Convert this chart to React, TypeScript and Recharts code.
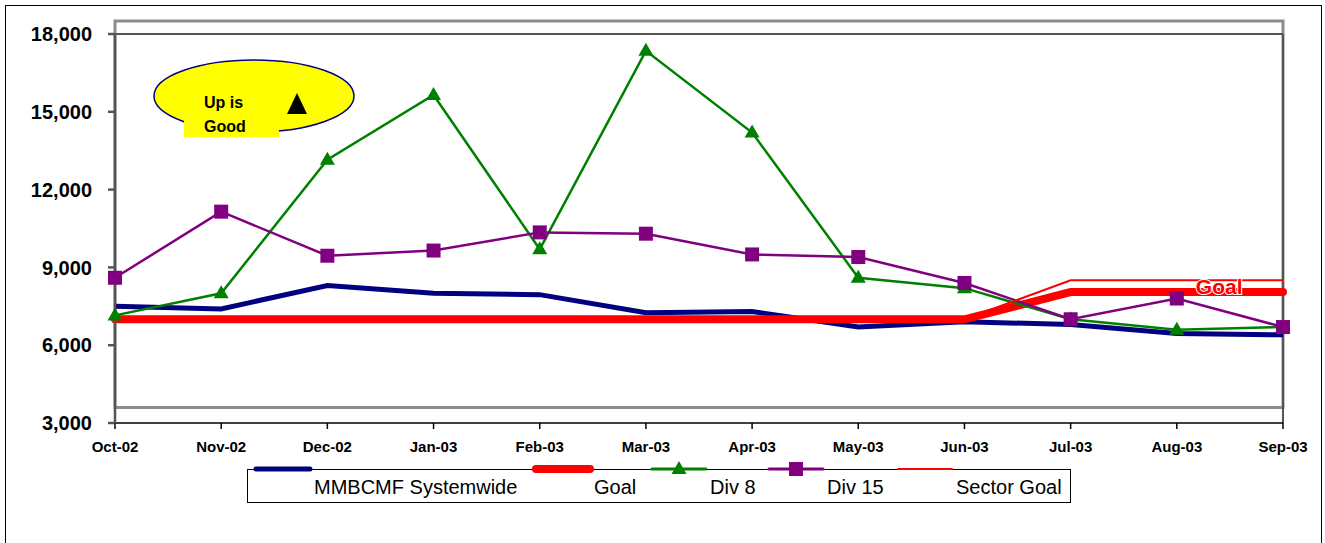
import { LineChart, Line, XAxis, YAxis, ReferenceArea, ReferenceLine, LabelList } from 'recharts';

const months = ['Oct-02', 'Nov-02', 'Dec-02', 'Jan-03', 'Feb-03', 'Mar-03', 'Apr-03', 'May-03', 'Jun-03', 'Jul-03', 'Aug-03', 'Sep-03'];
const systemwide = [7500, 7400, 8300, 8000, 7950, 7250, 7300, 6700, 6900, 6800, 6450, 6400];
const goal = [7000, 7000, 7000, 7000, 7000, 7000, 7000, 7000, 7000, 8050, 8050, 8050];
const div8 = [7150, 8000, 13150, 15650, 9700, 17350, 14200, 8600, 8200, 7000, 6600, 6700];
const div15 = [8600, 11150, 9450, 9650, 10350, 10300, 9500, 9400, 8400, 7000, 7800, 6700];
const sectorGoal = [7000, 7000, 7000, 7000, 7000, 7000, 7000, 7000, 7000, 8500, 8500, 8500];
const yTicks = [3000, 6000, 9000, 12000, 15000, 18000];

const data = months.map((m, i) => ({
  month: m,
  systemwide: systemwide[i],
  goal: goal[i],
  div8: div8[i],
  div15: div15[i],
  sectorGoal: sectorGoal[i],
}));

const FONT = '"Liberation Sans", Arial, sans-serif';

const triangleDot = (props: any) => {
  const { cx, cy, index } = props;
  return <path key={`tri-${index}`} d={`M${cx},${cy - 8} L${cx + 7.5},${cy + 5} L${cx - 7.5},${cy + 5} Z`} fill="#008000" />;
};

const squareDot = (props: any) => {
  const { cx, cy, index } = props;
  return <rect key={`sq-${index}`} x={cx - 7} y={cy - 7} width={14} height={14} fill="#800080" />;
};

const goalLabel = (props: any) => {
  const { x, y, index } = props;
  if (index !== 10) return null;
  return (
    <text x={x + 19} y={y + 2} fill="#ff0000" stroke="#fff" strokeWidth={2} paintOrder="stroke"
      fontFamily={FONT} fontWeight="bold" fontSize={21}>Goal</text>
  );
};

// legend items: sample style + left position inside the legend box
const legendItems = [
  { label: 'MMBCMF Systemwide', color: '#000080', width: 5, marker: null, left: 6 },
  { label: 'Goal', color: '#ff0000', width: 8, marker: null, left: 286 },
  { label: 'Div 8', color: '#008000', width: 3, marker: 'triangle', left: 402 },
  { label: 'Div 15', color: '#800080', width: 3, marker: 'square', left: 519 },
  { label: 'Sector Goal', color: '#ff0000', width: 2, marker: null, left: 648 },
];

const LegendBox = () => (
  <div style={{ position: 'absolute', left: 241, top: 463, width: 822, height: 32, border: '1px solid #000', background: '#fff' }}>
    {legendItems.map((it) => (
      <div key={it.label} style={{ position: 'absolute', left: it.left, top: -8, display: 'flex', alignItems: 'flex-start' }}>
        <svg width={58} height={16} style={{ overflow: 'visible' }}>
          <line x1={2} y1={7} x2={56} y2={7} stroke={it.color} strokeWidth={it.width} strokeLinecap="round" />
          {it.marker === 'triangle' && <path d="M29,-1 L36.5,12 L21.5,12 Z" fill={it.color} />}
          {it.marker === 'square' && <rect x={22} y={0} width={14} height={14} fill={it.color} />}
        </svg>
        <span style={{ fontFamily: FONT, fontSize: 20, marginLeft: 2, marginTop: 14, whiteSpace: 'nowrap', color: '#000' }}>{it.label}</span>
      </div>
    ))}
  </div>
);

const Callout = () => (
  <svg width={380} height={150} style={{ position: 'absolute', left: 0, top: 0, pointerEvents: 'none' }}>
    <ellipse cx={248} cy={90} rx={100} ry={36} fill="#ffff00" stroke="#000080" strokeWidth={1.5} />
    <rect x={178} y={84} width={95} height={47} fill="#ffff00" />
    <text x={198} y={102} fontFamily={FONT} fontWeight="bold" fontSize={16} fill="#000">Up is</text>
    <text x={198} y={126} fontFamily={FONT} fontWeight="bold" fontSize={16} fill="#000">Good</text>
    <path d="M291,87 L301,108 L281,108 Z" fill="#000" />
  </svg>
);

const App = () => {
  return (
    <>
      <style>{'body { margin: 0; }'}</style>
      <div style={{ position: 'absolute', left: 5, top: 5, width: 1315, height: 537, borderTop: '1px solid #000', borderLeft: '1px solid #000', borderRight: '1px solid #000', background: '#fff' }}>
        <LineChart width={1315} height={530} data={data} margin={{ top: 28, right: 38, left: 49, bottom: 83 }}>
          <ReferenceArea x1="Oct-02" x2="Sep-03" y1={3600} y2={18500} fill="none" stroke="#8c8c8c" strokeWidth={3} ifOverflow="visible" />
          <ReferenceLine y={18000} stroke="#555" strokeWidth={2} />
          <ReferenceLine x="Sep-03" stroke="#555" strokeWidth={2} />
          <XAxis
            dataKey="month"
            stroke="#000"
            strokeWidth={1.5}
            tickSize={6}
            tickMargin={12}
            height={30}
            interval={0}
            tick={{ fill: '#000', fontSize: 15, fontWeight: 'bold', fontFamily: FONT }}
          />
          <YAxis
            domain={[3000, 18000]}
            ticks={yTicks}
            width={60}
            stroke="#555"
            strokeWidth={2.5}
            tickSize={7}
            tickMargin={16}
            tickFormatter={(v: number) => v.toLocaleString('en-US')}
            tick={{ fill: '#000', fontSize: 20, fontWeight: 'bold', fontFamily: FONT }}
          />
          <Line type="linear" dataKey="systemwide" stroke="#000080" strokeWidth={5} dot={false} isAnimationActive={false} />
          <Line type="linear" dataKey="goal" stroke="#ff0000" strokeWidth={8} strokeLinecap="round" dot={false} isAnimationActive={false}>
            <LabelList dataKey="goal" content={goalLabel} />
          </Line>
          <Line type="linear" dataKey="div8" stroke="#008000" strokeWidth={2.5} dot={triangleDot} isAnimationActive={false} />
          <Line type="linear" dataKey="div15" stroke="#800080" strokeWidth={2.5} dot={squareDot} isAnimationActive={false} />
          <Line type="linear" dataKey="sectorGoal" stroke="#ff0000" strokeWidth={2} dot={false} isAnimationActive={false} />
        </LineChart>
        <Callout />
        <LegendBox />
      </div>
    </>
  );
};

export default App;
